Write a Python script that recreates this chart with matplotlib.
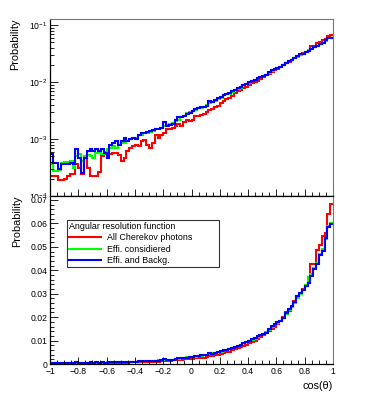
import numpy as np
import matplotlib
matplotlib.use("Agg")
import matplotlib.pyplot as plt
from matplotlib.ticker import MultipleLocator, LogLocator, LogFormatterMathtext, NullFormatter
from matplotlib.lines import Line2D
from matplotlib.patches import Rectangle

plt.rcParams['font.family'] = ['Liberation Sans', 'DejaVu Sans']
plt.rcParams['mathtext.fontset'] = 'custom'
plt.rcParams['mathtext.rm'] = 'Liberation Sans'
plt.rcParams['mathtext.it'] = 'Liberation Sans:italic'

# 100 bins in cos(theta) from -1 to 1
n_bins = 100
x_min, x_max = -1.0, 1.0

all_photons = [
    2.2e-4, 2.2e-4, 2.2e-4, 1.9e-4, 1.9e-4, 2.0e-4, 2.2e-4, 2.4e-4, 2.4e-4, 3.6e-4,
    3.1e-4, 2.4e-4, 5.0e-4, 3.1e-4, 2.2e-4, 2.2e-4, 2.2e-4, 2.6e-4, 5.0e-4, 5.4e-4,
    5.4e-4, 5.4e-4, 5.6e-4, 5.7e-4, 5.2e-4, 4.1e-4, 4.7e-4, 6.1e-4, 7.0e-4, 7.5e-4,
    7.7e-4, 7.5e-4, 9.2e-4, 9.6e-4, 7.7e-4, 7.0e-4, 8.6e-4, 1.16e-3, 1.06e-3, 1.20e-3,
    1.26e-3, 1.48e-3, 1.48e-3, 1.59e-3, 1.70e-3, 1.82e-3, 1.70e-3, 2.00e-3, 2.17e-3, 2.10e-3,
    2.14e-3, 2.55e-3, 2.55e-3, 2.66e-3, 2.73e-3, 2.92e-3, 3.21e-3, 3.35e-3, 3.68e-3, 3.84e-3,
    4.22e-3, 4.58e-3, 5.04e-3, 5.24e-3, 5.77e-3, 6.34e-3, 6.88e-3, 7.27e-3, 7.88e-3, 8.32e-3,
    9.03e-3, 9.53e-3, 9.93e-3, 1.06e-2, 1.14e-2, 1.22e-2, 1.31e-2, 1.40e-2, 1.50e-2, 1.60e-2,
    1.70e-2, 1.82e-2, 2.00e-2, 2.20e-2, 2.28e-2, 2.45e-2, 2.68e-2, 2.90e-2, 3.03e-2, 3.18e-2,
    3.35e-2, 3.45e-2, 4.25e-2, 4.28e-2, 4.85e-2, 5.10e-2, 5.48e-2, 5.60e-2, 6.40e-2, 6.82e-2,
]

effi_considered = [
    3.6e-4, 2.7e-4, 2.7e-4, 2.9e-4, 3.8e-4, 3.9e-4, 3.9e-4, 4.1e-4, 3.1e-4, 5.0e-4,
    5.4e-4, 4.1e-4, 5.0e-4, 5.2e-4, 5.0e-4, 4.7e-4, 5.7e-4, 5.6e-4, 5.4e-4, 5.9e-4,
    6.6e-4, 7.0e-4, 7.5e-4, 7.0e-4, 8.0e-4, 8.6e-4, 8.6e-4, 9.2e-4, 9.9e-4, 1.06e-3,
    1.06e-3, 1.16e-3, 1.20e-3, 1.30e-3, 1.26e-3, 1.33e-3, 1.39e-3, 1.48e-3, 1.52e-3, 1.59e-3,
    1.70e-3, 1.75e-3, 1.82e-3, 1.90e-3, 2.10e-3, 2.20e-3, 2.39e-3, 2.55e-3, 2.90e-3, 3.00e-3,
    3.10e-3, 3.20e-3, 3.45e-3, 3.50e-3, 3.70e-3, 3.90e-3, 4.30e-3, 4.50e-3, 4.70e-3, 5.10e-3,
    5.30e-3, 5.90e-3, 6.10e-3, 6.20e-3, 6.70e-3, 7.20e-3, 7.60e-3, 8.00e-3, 8.80e-3, 9.40e-3,
    9.70e-3, 1.03e-2, 1.08e-2, 1.17e-2, 1.25e-2, 1.29e-2, 1.35e-2, 1.44e-2, 1.58e-2, 1.70e-2,
    1.77e-2, 1.85e-2, 1.97e-2, 2.15e-2, 2.30e-2, 2.42e-2, 2.60e-2, 2.80e-2, 3.00e-2, 3.14e-2,
    3.36e-2, 3.70e-2, 3.85e-2, 4.10e-2, 4.30e-2, 4.70e-2, 4.90e-2, 5.35e-2, 5.90e-2, 6.00e-2,
]

effi_backg = [
    5.4e-4, 3.8e-4, 3.8e-4, 3.0e-4, 3.6e-4, 3.6e-4, 3.6e-4, 3.8e-4, 3.6e-4, 6.6e-4,
    4.7e-4, 2.5e-4, 4.7e-4, 6.1e-4, 6.6e-4, 6.1e-4, 6.6e-4, 6.1e-4, 6.6e-4, 5.7e-4,
    4.7e-4, 7.7e-4, 8.6e-4, 9.2e-4, 8.0e-4, 9.2e-4, 1.06e-3, 9.2e-4, 9.9e-4, 1.06e-3,
    1.01e-3, 1.16e-3, 1.26e-3, 1.26e-3, 1.33e-3, 1.39e-3, 1.44e-3, 1.48e-3, 1.48e-3, 1.59e-3,
    2.00e-3, 1.70e-3, 1.75e-3, 1.82e-3, 2.17e-3, 2.39e-3, 2.48e-3, 2.55e-3, 2.74e-3, 2.81e-3,
    3.13e-3, 3.35e-3, 3.49e-3, 3.68e-3, 3.68e-3, 3.84e-3, 4.58e-3, 4.40e-3, 4.83e-3, 5.24e-3,
    5.54e-3, 5.92e-3, 6.17e-3, 6.34e-3, 6.88e-3, 7.27e-3, 7.88e-3, 8.32e-3, 9.03e-3, 9.28e-3,
    9.93e-3, 1.06e-2, 1.09e-2, 1.19e-2, 1.25e-2, 1.28e-2, 1.34e-2, 1.48e-2, 1.62e-2, 1.69e-2,
    1.79e-2, 1.84e-2, 1.98e-2, 2.19e-2, 2.33e-2, 2.48e-2, 2.65e-2, 2.90e-2, 3.05e-2, 3.16e-2,
    3.33e-2, 3.45e-2, 3.76e-2, 4.07e-2, 4.26e-2, 4.64e-2, 4.83e-2, 5.39e-2, 5.86e-2, 5.96e-2,
]

labels = ["All Cherekov photons", "Effi. considiered", "Effi. and Backg."]
colors = ["#ff0000", "#00ff00", "#0000ff"]
series = [all_photons, effi_considered, effi_backg]
legend_title = "Angular resolution function"

edges = np.linspace(x_min, x_max, n_bins + 1)

W, H = 374, 394
fig = plt.figure(figsize=(W / 100, H / 100), dpi=100)

# pixel boxes of the two pads
left, right = 50, 333
ax_top = fig.add_axes([left / W, 1 - 196 / H, (right - left) / W, (196 - 19) / H])
ax_bot = fig.add_axes([left / W, 1 - 364 / H, (right - left) / W, (364 - 196) / H])

# lower pad is drawn over the upper one, as in ROOT (it hides half of the 10^-4 label)
ax_top.set_zorder(0)
fig.add_artist(Rectangle((0, 0), 1, 1 - 196.6 / H, transform=fig.transFigure,
                         facecolor='white', edgecolor='none', zorder=1))
ax_bot.set_zorder(2)


def cos_fmt(v, pos):
    v = round(v, 6)
    if v == 0:
        return "0"
    return f"{v:g}".replace("-", "\u2212")


for ax in (ax_top, ax_bot):
    for vals, c, lab in zip(series, colors, labels):
        ax.stairs(vals, edges, color=c, lw=1.5, baseline=None, label=lab)
    ax.set_xlim(x_min, x_max)
    ax.xaxis.set_major_locator(MultipleLocator(0.2))
    ax.xaxis.set_minor_locator(MultipleLocator(0.05))
    ax.xaxis.set_major_formatter(cos_fmt)
    ax.tick_params(which='both', direction='in', top=False, right=False,
                   labelsize=6.2, pad=2, width=0.6)
    ax.tick_params(which='major', length=5)
    ax.tick_params(which='minor', length=2.8)
    ax.spines['top'].set_color('#777777')
    ax.spines['right'].set_color('#777777')
    ax.spines['top'].set_linewidth(0.8)
    ax.spines['right'].set_linewidth(0.8)
    ax.spines['left'].set_linewidth(0.9)
    ax.spines['bottom'].set_linewidth(0.9)
    ax.set_ylabel("Probability", loc='top', fontsize=7.8, labelpad=6)

# top pad: log scale
ax_top.set_yscale('log')
ax_top.set_ylim(1e-4, 10 ** -0.894)
ax_top.yaxis.set_major_locator(LogLocator(base=10, numticks=10))
ax_top.yaxis.set_major_formatter(LogFormatterMathtext())
ax_top.yaxis.set_minor_locator(LogLocator(base=10, subs=np.arange(2, 10), numticks=10))
ax_top.yaxis.set_minor_formatter(NullFormatter())
ax_top.tick_params(axis='x', labelbottom=False)
ax_top.tick_params(axis='y', which='major', length=6)
ax_top.tick_params(axis='y', which='minor', length=3)

# bottom pad: linear scale
ax_bot.set_ylim(0, 0.0717)
ax_bot.yaxis.set_major_locator(MultipleLocator(0.01))
ax_bot.yaxis.set_minor_locator(MultipleLocator(0.002))
ax_bot.yaxis.set_major_formatter(lambda v, p: "0" if abs(v) < 1e-9 else f"{v:.2f}")
ax_bot.tick_params(axis='y', which='major', length=6)
ax_bot.tick_params(axis='y', which='minor', length=3)
ax_bot.spines['top'].set_color('black')
ax_bot.spines['top'].set_linewidth(0.9)
ax_bot.set_xlabel("cos(θ)", loc='right', fontsize=7.8, labelpad=4)

handles = [Line2D([], [], color=c, lw=1.5) for c in colors]
leg = ax_bot.legend(handles, labels, title=legend_title, loc='upper left',
                    bbox_to_anchor=(0.06, 0.583, 0.537, 0.274), mode='expand',
                    fontsize=6.4, title_fontsize=6.4,
                    frameon=True, fancybox=False, edgecolor='black',
                    handlelength=3.6, handletextpad=0.7, labelspacing=0.25,
                    borderpad=0.25, borderaxespad=0, alignment='left')
leg.get_frame().set_linewidth(0.8)

fig.savefig("out.png", dpi=100)
